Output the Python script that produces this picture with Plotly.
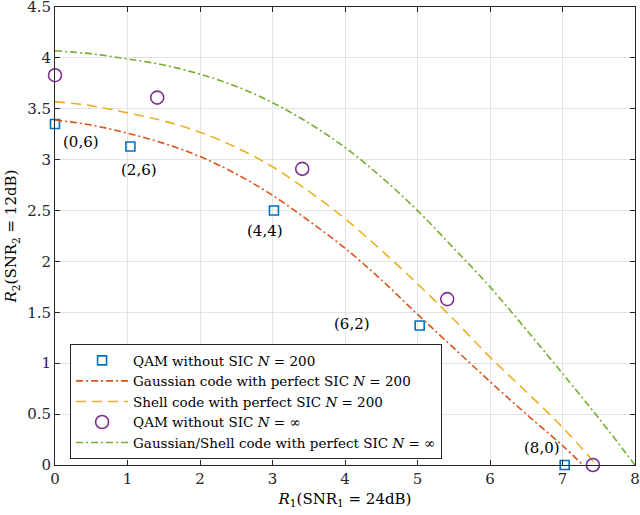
import plotly.graph_objects as go

# QAM without SIC, N = 200 (squares)
qam200_x = [0, 1.04, 3.02, 5.03, 7.03]
qam200_y = [3.35, 3.13, 2.50, 1.37, 0.0]
qam200_labels = ["(0,6)", "(2,6)", "(4,4)", "(6,2)", "(8,0)"]
label_x = [0.36, 1.16, 2.89, 4.09, 6.72]
label_y = [3.17, 2.90, 2.30, 1.39, 0.17]

# Gaussian code with perfect SIC, N = 200
gauss_x = [0, 0.5, 1, 1.5, 2, 2.5, 3, 3.5, 4, 4.5, 5, 5.5, 6, 6.5, 7, 7.28]
gauss_y = [3.39, 3.34, 3.26, 3.16, 3.03, 2.86, 2.65, 2.40, 2.13, 1.82, 1.48, 1.15, 0.82, 0.50, 0.19, 0.0]

# Shell code with perfect SIC, N = 200
shell_x = [0, 0.5, 1, 1.5, 2, 2.5, 3, 3.5, 4, 4.5, 5, 5.5, 6, 6.5, 7, 7.47]
shell_y = [3.57, 3.53, 3.46, 3.38, 3.27, 3.12, 2.93, 2.69, 2.42, 2.11, 1.78, 1.43, 1.06, 0.72, 0.37, 0.0]

# QAM without SIC, N = inf (circles)
qaminf_x = [0, 1.41, 3.41, 5.41, 7.42]
qaminf_y = [3.83, 3.61, 2.91, 1.63, 0.0]

# Gaussian/Shell code with perfect SIC, N = inf
inf_x = [0, 0.5, 1, 1.5, 2, 2.5, 3, 3.5, 4, 4.5, 5, 5.5, 6, 6.5, 7, 7.5, 8]
inf_y = [4.07, 4.04, 3.99, 3.93, 3.84, 3.72, 3.56, 3.36, 3.12, 2.83, 2.50, 2.13, 1.75, 1.33, 0.90, 0.46, 0.0]

FONT = "DejaVu Serif"
AX = "#262626"

fig = go.Figure()
fig.add_trace(go.Scatter(x=qam200_x, y=qam200_y, mode="markers", cliponaxis=False,
                         name="QAM without SIC <i>N</i> = 200",
                         marker=dict(symbol="square-open", size=9, color="#0072BD",
                                     line=dict(width=1.6))))
fig.add_trace(go.Scatter(x=gauss_x, y=gauss_y, mode="lines", line_shape="spline",
                         name="Gaussian code with perfect SIC <i>N</i> = 200",
                         line=dict(color="#D95319", width=1.6, dash="7px,3px,2px,3px")))
fig.add_trace(go.Scatter(x=shell_x, y=shell_y, mode="lines", line_shape="spline",
                         name="Shell code with perfect SIC <i>N</i> = 200",
                         line=dict(color="#EDB120", width=1.6, dash="10px,6px")))
fig.add_trace(go.Scatter(x=qaminf_x, y=qaminf_y, mode="markers", cliponaxis=False,
                         name="QAM without SIC <i>N</i> = ∞",
                         marker=dict(symbol="circle-open", size=13, color="#7E2F8E",
                                     line=dict(width=1.6))))
fig.add_trace(go.Scatter(x=inf_x, y=inf_y, mode="lines", line_shape="spline",
                         name="Gaussian/Shell code with perfect SIC <i>N</i> = ∞",
                         line=dict(color="#77AC30", width=1.6, dash="7px,3px,2px,3px")))

for lx, ly, t in zip(label_x, label_y, qam200_labels):
    fig.add_annotation(x=lx, y=ly, text=t, showarrow=False,
                       font=dict(family=FONT, size=15, color="black"))

axis_style = dict(showline=True, linecolor=AX, linewidth=1, mirror="ticks",
                  ticks="inside", ticklen=5, tickcolor=AX, showgrid=True,
                  gridcolor="#e3e3e3", gridwidth=1, zeroline=False,
                  ticklabeloverflow="allow", automargin=False,
                  tickfont=dict(family=FONT, size=15, color="#262626"))

fig.update_xaxes(range=[0, 8], dtick=1, tick0=0,
                 title=dict(text="<i>R</i><sub>1</sub>(SNR<sub>1</sub> = 24dB)",
                            font=dict(family=FONT, size=15, color="black"), standoff=6),
                 **axis_style)
fig.update_yaxes(range=[0, 4.5], dtick=0.5, tick0=0,
                 title=dict(text="<i>R</i><sub>2</sub>(SNR<sub>2</sub> = 12dB)",
                            font=dict(family=FONT, size=15, color="black"), standoff=6),
                 **axis_style)

fig.update_layout(
    width=640, height=515,
    margin=dict(l=55, r=5, t=7, b=50),
    plot_bgcolor="white", paper_bgcolor="white",
    font=dict(family=FONT, size=15, color="black"),
    legend=dict(x=0.026, y=0.264, xanchor="left", yanchor="top",
                bgcolor="white", bordercolor=AX, borderwidth=1,
                font=dict(family=FONT, size=13.5), itemwidth=52,
                tracegroupgap=0),
    showlegend=True,
)

fig.write_html("out.html", config={"displayModeBar": False},
               post_script="document.body.style.margin='0';")
